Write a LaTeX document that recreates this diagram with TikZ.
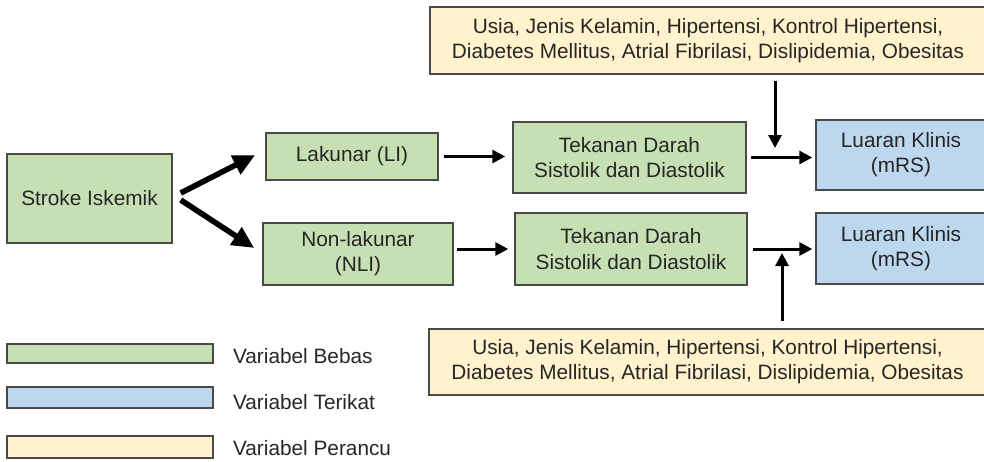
\documentclass[tikz,border=0pt]{standalone}
\usepackage{fontspec}
\setmainfont{Liberation Sans}
\usepackage{tikz}
\usetikzlibrary{calc,arrows.meta}
\definecolor{bebas}{HTML}{C6E0B4}
\definecolor{terikat}{HTML}{BDD7EE}
\definecolor{perancu}{HTML}{FFF2CC}
\definecolor{rim}{HTML}{4A4A4A}
\definecolor{ink}{HTML}{262626}
\tikzstyle{greenbox}=[rectangle,draw=rim,fill=bebas,line width=0.75pt,
                      text=ink,align=center,inner sep=0pt,
                      font=\fontsize{10.4}{12.6}\selectfont]
\tikzstyle{bluebox}=[greenbox,fill=terikat]
\tikzstyle{yellowbox}=[greenbox,fill=perancu]
\tikzstyle{legendtext}=[anchor=west,text=ink,font=\fontsize{10.4}{12.6}\selectfont]
\tikzstyle{arr}=[line width=1.5pt,-{Triangle[length=6.5pt,width=6.5pt]}]
\tikzstyle{bigarr}=[line width=2.8pt,-{Triangle[length=11pt,width=10pt]}]

\begin{document}
\begin{tikzpicture}[x=0.5pt,y=-0.5pt]
    \useasboundingbox (0,0) rectangle (984,461);
    % confounders
    \node [yellowbox,minimum width=278pt,minimum height=33.5pt] (conf top) at (708,40.5) {
        Usia, Jenis Kelamin, Hipertensi, Kontrol Hipertensi,\\
        Diabetes Mellitus, Atrial Fibrilasi, Dislipidemia, Obesitas};
    \node [yellowbox,minimum width=278.5pt,minimum height=33pt] (conf bottom) at (707.5,362) {
        Usia, Jenis Kelamin, Hipertensi, Kontrol Hipertensi,\\
        Diabetes Mellitus, Atrial Fibrilasi, Dislipidemia, Obesitas};
    % main chain
    \node [greenbox,minimum width=82.5pt,minimum height=44.5pt] (stroke) at (89.5,198.5) {Stroke Iskemik};
    \node [greenbox,minimum width=86pt,minimum height=23.5pt] (lakunar) at (352,156.5) {Lakunar (LI)};
    \node [greenbox,minimum width=95pt,minimum height=31pt] (nonlakunar) at (358,254) {Non-lakunar\\(NLI)};
    \node [greenbox,minimum width=116.5pt,minimum height=35.5pt] (tekanan top) at (629.5,157.5) {
        Tekanan Darah\\Sistolik dan Diastolik};
    \node [greenbox,minimum width=116pt,minimum height=36pt] (tekanan bottom) at (631,249) {
        Tekanan Darah\\Sistolik dan Diastolik};
    \node [bluebox,minimum width=85pt,minimum height=35pt] (luaran top) at (901,155) {Luaran Klinis\\(mRS)};
    \node [bluebox,minimum width=85pt,minimum height=35.5pt] (luaran bottom) at (901,248.5) {Luaran Klinis\\(mRS)};
    \coordinate (join top) at (775,148);
    \coordinate (join bottom) at (782,253);

    % arrows
    \draw [bigarr] ([xshift=4pt,yshift=2.75pt]stroke.east) -- ([xshift=-5pt,yshift=0.75pt]lakunar.west);
    \draw [bigarr] ([xshift=4pt,yshift=-0.75pt]stroke.east) -- ([xshift=-4pt,yshift=3pt]nonlakunar.west);
    \draw [arr] ([xshift=2.5pt]lakunar.east) -- ([xshift=-3.5pt]lakunar.east -| tekanan top.west);
    \draw [arr] ([xshift=1.5pt]tekanan bottom.west -| nonlakunar.east) -- ([xshift=-3pt]tekanan bottom.west);
    \draw [arr] ([xshift=2pt]tekanan top.east) -- ([xshift=-1.5pt]tekanan top.east -| luaran top.west);
    \draw [arr] ([xshift=2.5pt]tekanan bottom.east) -- ([xshift=-1.5pt]tekanan bottom.east -| luaran bottom.west);
    \draw [arr] ([yshift=-3pt]conf top.south -| join top) -- (join top);
    \draw [arr] ([yshift=3.5pt]conf bottom.north -| join bottom) -- (join bottom);

    % legend
    \node [greenbox,minimum width=103pt,minimum height=9.5pt] (key bebas) at (110,353.5) {};
    \node [bluebox,minimum width=103pt,minimum height=10.5pt] (key terikat) at (110,397.5) {};
    \node [yellowbox,minimum width=103pt,minimum height=11pt] (key perancu) at (110,447) {};
    \node [legendtext] (label bebas) at (226,356) {Variabel Bebas};
    \node [legendtext] (label terikat) at (226,402) {Variabel Terikat};
    \node [legendtext] (label perancu) at (226,448) {Variabel Perancu};
\end{tikzpicture}
\end{document}
